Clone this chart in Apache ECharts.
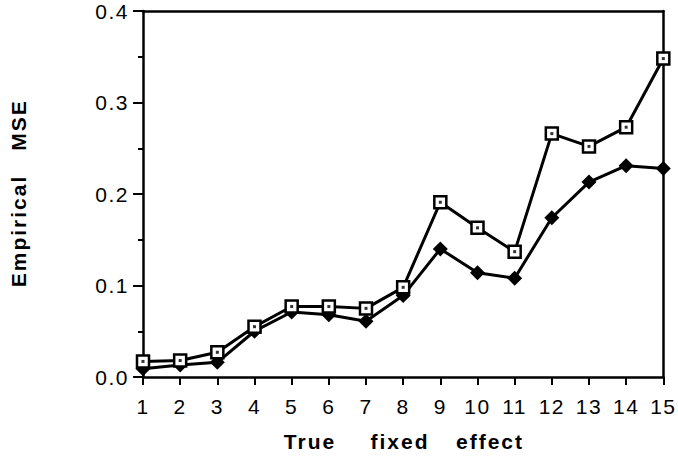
<!DOCTYPE html>
<html><head><meta charset="utf-8">
<script src="https://cdn.jsdelivr.net/npm/echarts@6/dist/echarts.min.js"></script>
<style>
html,body{margin:0;padding:0;background:#fff}
#c{width:678px;height:456px}
#c text{letter-spacing:1.5px}
#c text[style*="bold"], #c text[font-weight="bold"]{letter-spacing:2px}
</style>
</head><body><div id="c"></div>
<script>
var xValues = [1,2,3,4,5,6,7,8,9,10,11,12,13,14,15];
var squareSeries = [0.017,0.018,0.027,0.055,0.077,0.077,0.075,0.098,0.191,0.163,0.137,0.266,0.252,0.273,0.348];
var diamondSeries = [0.009,0.013,0.016,0.050,0.071,0.068,0.061,0.089,0.140,0.114,0.108,0.174,0.213,0.231,0.228];
var yTicks = [0.0,0.1,0.2,0.3,0.4];
var xTitleWords = ['True','fixed','effect'];
var yTitleWords = ['Empirical','MSE'];

function pairs(vals){ return xValues.map(function(x,i){ return [x, vals[i]]; }); }
var FONT = '"Liberation Sans", Arial, Helvetica, sans-serif';
var chart = echarts.init(document.getElementById('c'), null, {renderer:'svg'});
var axisLine = {show:true, onZero:false, lineStyle:{color:'#000', width:2.5}};
function titleText(word, x, y, rot){
  return {type:'text', x:x, y:y, rotation:rot || 0,
    style:{text:word, fontSize:21, fontWeight:'bold', fontFamily:FONT, fill:'#000', align:'center', verticalAlign:'middle'}};
}
chart.setOption({
  animation:false,
  backgroundColor:'#fff',
  grid:{left:143, right:12, top:11, bottom:79, containLabel:false},
  xAxis:[{
    type:'value', min:1, max:15, interval:1,
    axisLine:axisLine,
    axisTick:{show:true, inside:false, length:8, lineStyle:{color:'#000', width:2}},
    axisLabel:{color:'#000', fontSize:21, fontFamily:FONT, margin:19},
    splitLine:{show:false}
  },{
    type:'value', min:1, max:15, position:'top',
    axisLine:axisLine, axisTick:{show:false}, axisLabel:{show:false}, splitLine:{show:false}
  }],
  yAxis:[{
    type:'value', min:yTicks[0], max:yTicks[yTicks.length-1], interval:0.1,
    axisLine:axisLine,
    axisTick:{show:true, length:10, lineStyle:{color:'#000', width:2}},
    minorTick:{show:true, splitNumber:2, length:5, lineStyle:{color:'#000', width:2}},
    axisLabel:{color:'#000', fontSize:21, fontFamily:FONT, margin:14, formatter:function(v){return v.toFixed(1);}},
    splitLine:{show:false}
  },{
    type:'value', min:0, max:0.4, position:'right',
    axisLine:axisLine, axisTick:{show:false}, axisLabel:{show:false}, splitLine:{show:false}
  }],
  graphic:[
    titleText(xTitleWords[0], 310, 441),
    titleText(xTitleWords[1], 400, 441),
    titleText(xTitleWords[2], 490, 441),
    titleText(yTitleWords[0], 18, 231, Math.PI/2),
    titleText(yTitleWords[1], 18, 125, Math.PI/2)
  ],
  series:[
    {type:'line', data:pairs(diamondSeries), clip:false, symbol:'diamond', symbolSize:15,
     lineStyle:{color:'#000', width:3}, itemStyle:{color:'#000'}, z:2},
    {type:'line', data:pairs(squareSeries), clip:false, symbol:'rect', symbolSize:12,
     lineStyle:{color:'#000', width:3}, itemStyle:{color:'#fff', borderColor:'#000', borderWidth:2.5}, z:3},
    {type:'scatter', data:pairs(squareSeries), clip:false, symbol:'rect', symbolSize:3,
     itemStyle:{color:'#000'}, z:4}
  ]
});
</script></body></html>
